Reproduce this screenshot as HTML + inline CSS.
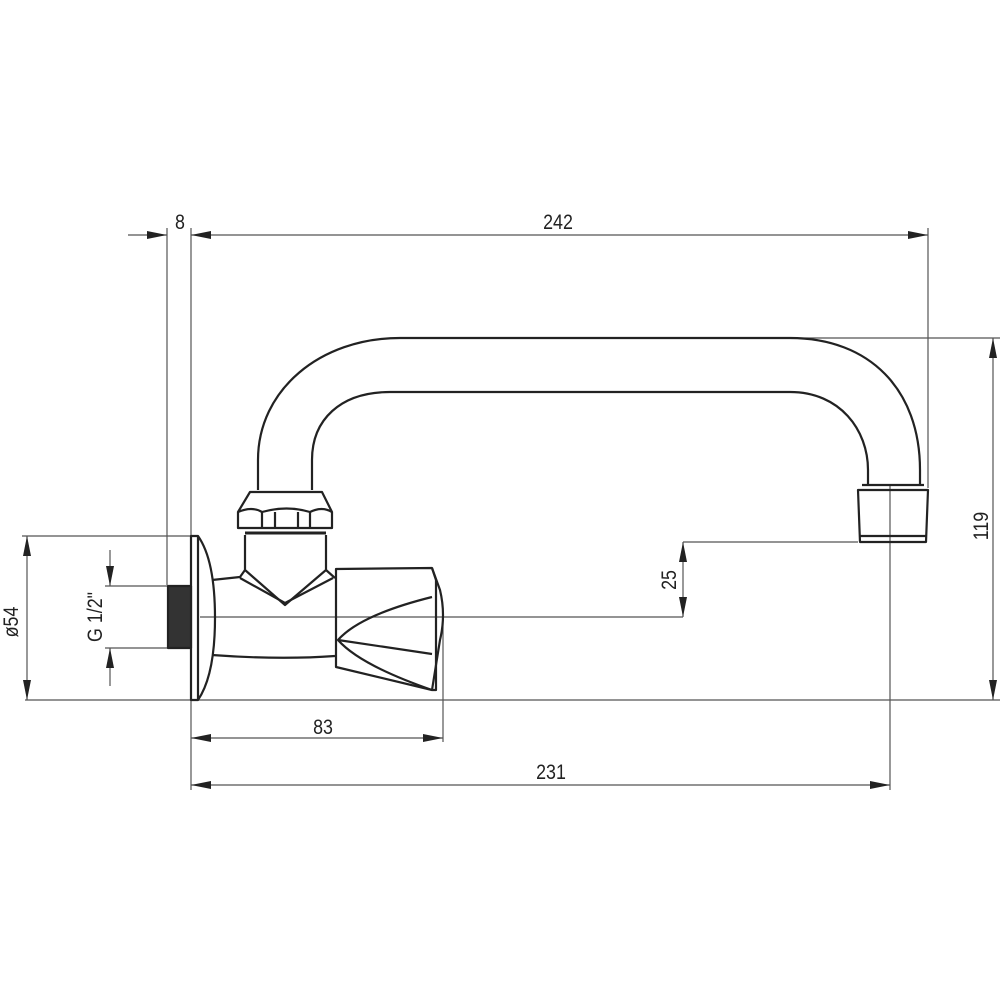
<!DOCTYPE html>
<html><head><style>
html,body{margin:0;padding:0;background:#fff;}
svg{display:block;}
text{font-family:"Liberation Sans",sans-serif;font-size:21px;fill:#222;}
</style></head><body>
<svg width="1000" height="1000" viewBox="0 0 1000 1000" xmlns="http://www.w3.org/2000/svg">
<defs>
<marker id="a" viewBox="0 0 20 8" refX="20" refY="4" markerWidth="20" markerHeight="8" markerUnits="userSpaceOnUse" orient="auto-start-reverse">
<path d="M0,0 L20,4 L0,8 Z" fill="#222"/></marker>
</defs>
<g stroke="#555" stroke-width="1.2" fill="none">
<line x1="167" y1="228" x2="167" y2="585"/>
<line x1="191" y1="228" x2="191" y2="790"/>
<line x1="928" y1="228" x2="928" y2="488"/>
<line x1="790" y1="338" x2="1000" y2="338"/>
<line x1="25" y1="700" x2="1000" y2="700"/>
<line x1="22" y1="536" x2="191" y2="536"/>
<line x1="105" y1="586" x2="167" y2="586"/>
<line x1="105" y1="648" x2="167" y2="648"/>
<line x1="683" y1="542" x2="858" y2="542"/>
<line x1="200" y1="617" x2="683" y2="617"/>
<line x1="443" y1="615" x2="443" y2="742"/>
<line x1="890" y1="485" x2="890" y2="790"/>
<line x1="128" y1="235" x2="167" y2="235" marker-end="url(#a)"/>
<line x1="191" y1="235" x2="928" y2="235" marker-start="url(#a)" marker-end="url(#a)"/>
<line x1="993" y1="338" x2="993" y2="700" marker-start="url(#a)" marker-end="url(#a)"/>
<line x1="27" y1="536" x2="27" y2="700" marker-start="url(#a)" marker-end="url(#a)"/>
<line x1="110" y1="550" x2="110" y2="586" marker-end="url(#a)"/>
<line x1="110" y1="686" x2="110" y2="648" marker-end="url(#a)"/>
<line x1="683" y1="542" x2="683" y2="617" marker-start="url(#a)" marker-end="url(#a)"/>
<line x1="191" y1="738" x2="443" y2="738" marker-start="url(#a)" marker-end="url(#a)"/>
<line x1="191" y1="785" x2="890" y2="785" marker-start="url(#a)" marker-end="url(#a)"/>
</g>
<g stroke="#222" stroke-width="2.2" fill="none" stroke-linejoin="round">
<path d="M258,490 L258,460 C258,390 320,338 400,338 L790,338 C870,338 920,390 920,470 L920,485"/>
<path d="M312,490 L312,460 C312,420 340,392 390,392 L790,392 C840,392 868,430 868,470 L868,485"/>
<path d="M862,485 L924,485 M858,490 L928,490 L926,542 L860,542 Z M860,536 L926,536"/>
<path d="M250,492 L322,492 L332,512 L332,528 L238,528 L238,512 Z"/>
<path d="M238,512 Q252,506 262,512 L262,528 M262,512 Q287,505 310,512 L310,528 M310,512 Q322,506 332,512 M275,512 L275,528 M298,512 L298,528"/>
<path d="M245,533 L326,533" stroke-width="3"/>
<path d="M245,535 L245,570 L285,605 L326,570 L326,535"/>
<path d="M240,578 L285,603 L333,578"/>
<path d="M212,580 L240,577 L245,570 M326,570 L335,578"/>
<path d="M212,655 Q280,660 335,656"/>
<path d="M191,536 L198,536 Q215,560 215,618 Q215,675 198,700 L191,700 Z"/>
<line x1="198" y1="536" x2="198" y2="700"/>
<rect x="168" y="586" width="23" height="62" fill="#333"/>
<path d="M336,569 L432,568 L436,580 L436,690 L432,690 L336,667 Z"/>
<path d="M432,568 L440,590 Q446,615 440,640 L432,690"/>
<path d="M432,597 Q360,615 338,640 Q360,665 432,690"/>
<path d="M338,640 L432,654"/>
</g>
<text transform="translate(180,229) scale(0.85,1)" text-anchor="middle">8</text>
<text transform="translate(558,229) scale(0.85,1)" text-anchor="middle">242</text>
<text transform="translate(323,734) scale(0.85,1)" text-anchor="middle">83</text>
<text transform="translate(551,779) scale(0.85,1)" text-anchor="middle">231</text>
<text transform="translate(988,526) rotate(-90) scale(0.85,1)" text-anchor="middle">119</text>
<text transform="translate(18,622) rotate(-90) scale(0.85,1)" text-anchor="middle">ø54</text>
<text transform="translate(102,617) rotate(-90) scale(0.85,1)" text-anchor="middle">G 1/2"</text>
<text transform="translate(676,580) rotate(-90) scale(0.85,1)" text-anchor="middle">25</text>
</svg>
</body></html>
